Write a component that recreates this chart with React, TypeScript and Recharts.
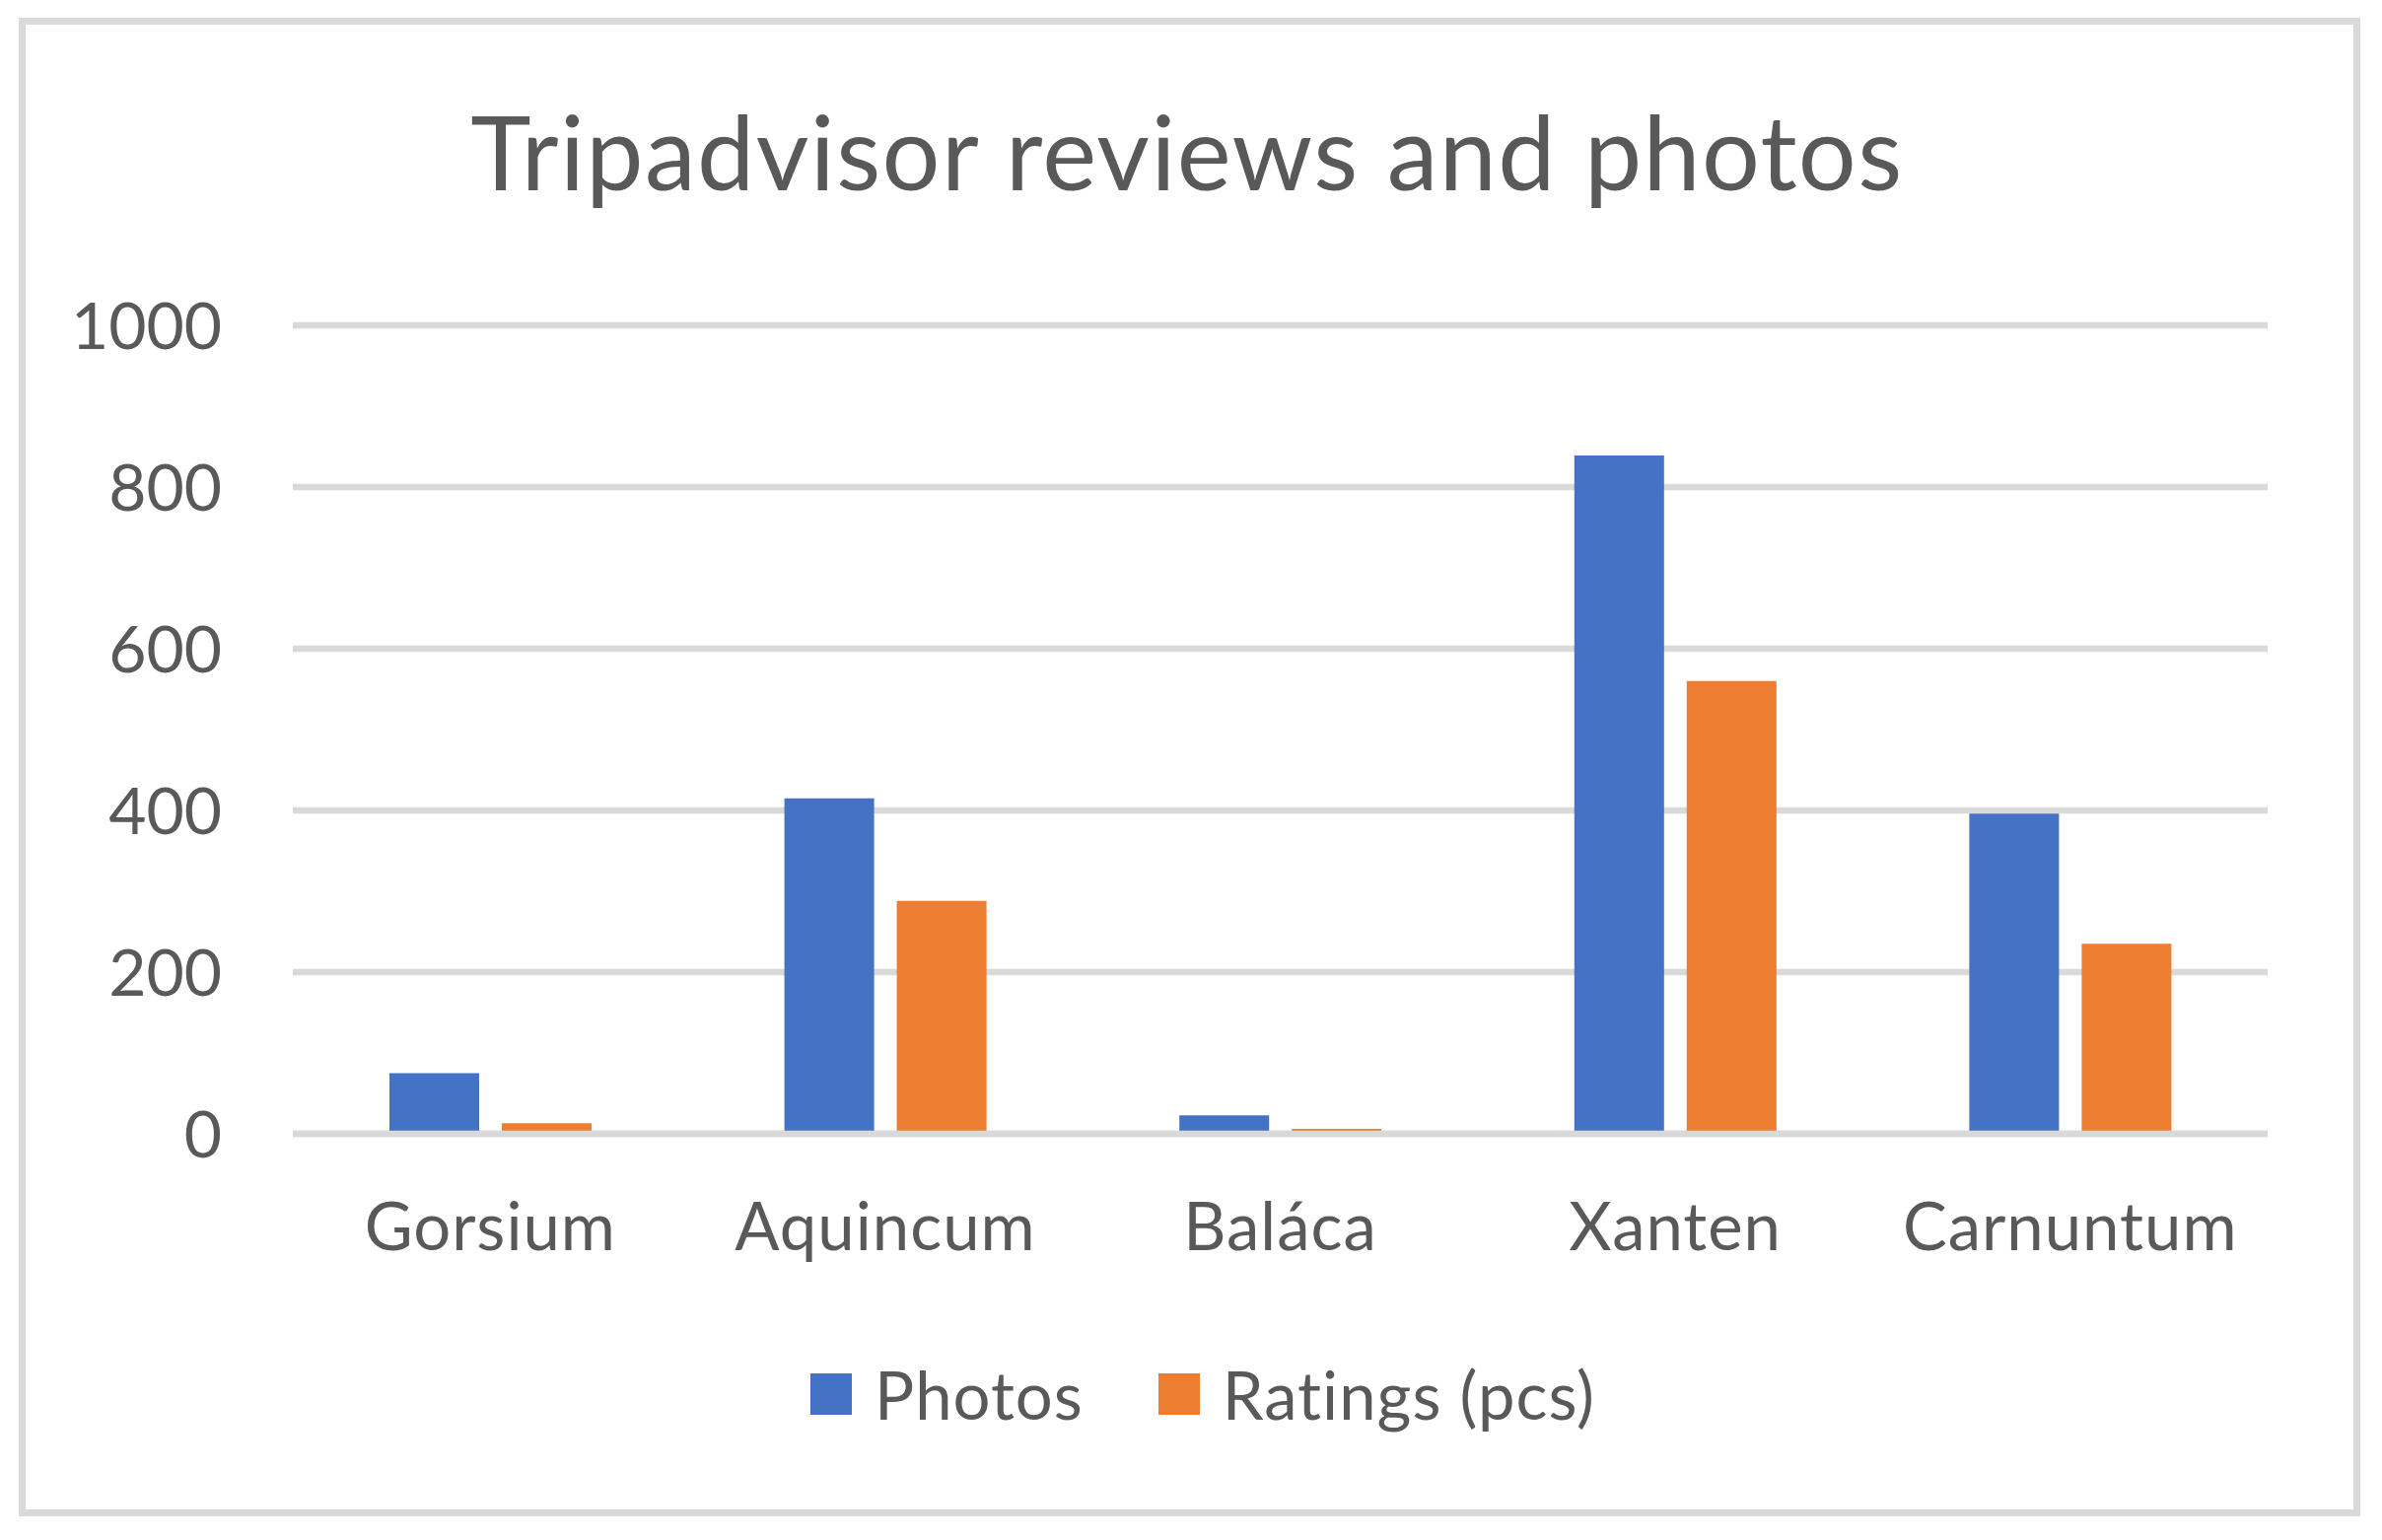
import React from 'react';
import { BarChart, Bar, XAxis, YAxis, CartesianGrid, ReferenceLine } from 'recharts';

const categories = ['Gorsium', 'Aquincum', 'Baláca', 'Xanten', 'Carnuntum'];
const photos = [75, 415, 23, 839, 396];
const ratings = [13, 288, 6, 560, 235];
const yTicks = [0, 200, 400, 600, 800, 1000];

const seriesNames = ['Photos', 'Ratings (pcs)'];
const seriesKeys = ['photos', 'ratings'];
const seriesColors = ['#4472C4', '#ED7D31'];

const data = categories.map((c, i) => ({ category: c, photos: photos[i], ratings: ratings[i] }));

const FONT = 'Lato, "Open Sans", sans-serif';
const TEXT = '#595959';
const GRID = '#D9D9D9';

const YTick = (props: any) => {
  const { x, y, payload } = props;
  return (
    <text x={x} y={y} dy={24} textAnchor="end" fontFamily={FONT} fontSize={66} fill={TEXT}>
      {payload.value}
    </text>
  );
};

const XTick = (props: any) => {
  const { x, y, payload } = props;
  return (
    <text
      x={x}
      y={y}
      dy={118}
      textAnchor="middle"
      fontFamily={FONT}
      fontSize={67}
      letterSpacing={1}
      fill={TEXT}
    >
      {payload.value}
    </text>
  );
};

export default function App() {
  return (
    <div style={{ position: 'absolute', left: 0, top: 0, width: 2416, height: 1562, background: '#fff' }}>
      <div
        style={{
          position: 'absolute',
          left: 19,
          top: 18,
          width: 2375,
          height: 1520,
          border: `7px solid ${GRID}`,
          boxSizing: 'border-box',
        }}
      />
      <svg style={{ position: 'absolute', left: 0, top: 0 }} width={2416} height={260}>
        <text
          x={1204}
          y={193}
          textAnchor="middle"
          fontFamily={FONT}
          fontSize={104}
          letterSpacing={1.4}
          fill={TEXT}
        >
          Tripadvisor reviews and photos
        </text>
      </svg>
      <div style={{ position: 'absolute', left: 0, top: 0 }}>
        <BarChart
          width={2416}
          height={1562}
          data={data}
          margin={{ top: 330, right: 116, bottom: 312, left: 0 }}
          barSize={91}
          barGap={23}
        >
          <CartesianGrid horizontal vertical={false} stroke={GRID} strokeWidth={6.5} />
          <XAxis
            dataKey="category"
            height={100}
            axisLine={false}
            tickLine={false}
            tickSize={0}
            tickMargin={0}
            tick={<XTick />}
            interval={0}
          />
          <YAxis
            width={297}
            domain={[0, 1000]}
            ticks={yTicks}
            axisLine={false}
            tickLine={false}
            tickSize={0}
            tickMargin={72}
            tick={<YTick />}
            interval={0}
          />
          {seriesKeys.map((k, i) => (
            <Bar key={k} dataKey={k} name={seriesNames[i]} fill={seriesColors[i]} isAnimationActive={false} />
          ))}
          <ReferenceLine y={0} stroke={GRID} strokeWidth={6.5} />
        </BarChart>
      </div>
      <div
        style={{
          position: 'absolute',
          left: 12,
          top: 1372,
          width: 2416,
          height: 84,
          display: 'flex',
          justifyContent: 'center',
          alignItems: 'center',
          fontFamily: FONT,
          fontSize: 67,
          letterSpacing: 1,
          color: TEXT,
        }}
      >
        {seriesNames.map((n, i) => (
          <div key={n} style={{ display: 'flex', alignItems: 'center', marginLeft: i === 0 ? 0 : 76 }}>
            <div style={{ width: 42, height: 42, background: seriesColors[i], marginRight: 23 }} />
            <span style={{ lineHeight: '84px' }}>{n}</span>
          </div>
        ))}
      </div>
    </div>
  );
}
